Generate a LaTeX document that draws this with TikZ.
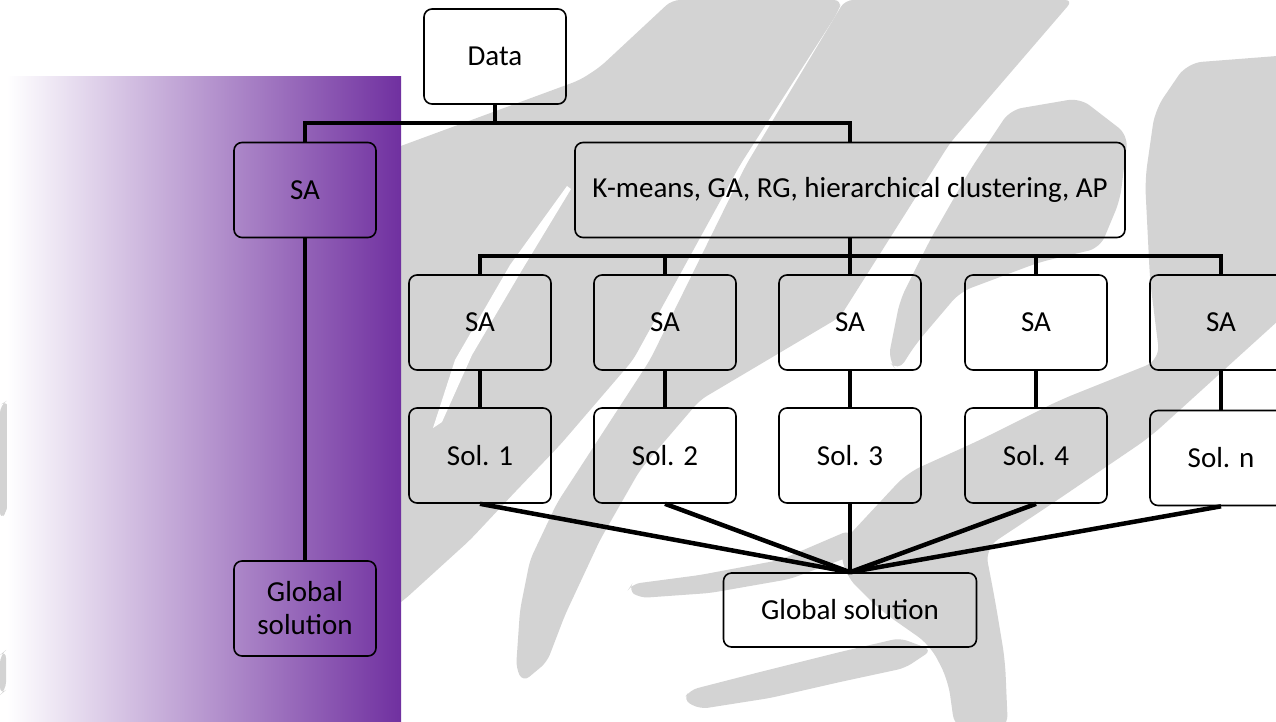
\documentclass[tikz,border=0pt]{standalone}
\usepackage{fontspec}
\setmainfont{Carlito}
\definecolor{bgg}{RGB}{211,211,211}
\definecolor{pur}{RGB}{112,48,160}
\definecolor{lav}{RGB}{206,194,225}
\begin{document}
\begin{tikzpicture}[x=1pt,y=-1pt,
  box/.style={draw=black, line width=1.6pt, rounded corners=8pt, minimum width=142pt,
    minimum height=95pt, inner sep=0pt, align=center, font=\fontsize{29}{33}\selectfont},
  conn/.style={line width=4.5pt, line join=miter},
  brush/.style={fill=bgg, rounded corners=8pt}]
\useasboundingbox (0,0) rectangle (1276,721);
\fill[white] (0,0) rectangle (1276,721);
% background brush strokes
\fill[brush] (600,67) -- (672,0) -- (842,0) -- (838,12) -- (740,165) -- (633,360) -- (560,445)
  -- (515,492) -- (470,540) -- (404,600) -- (390,610) -- (390,150) -- (580,80) -- cycle;
\fill[white] (567,186) -- (571,189) -- (522,270) -- (472,355) -- (442,422) -- (433,428)
  -- (455,360) -- (510,265) -- cycle;
\fill[brush] (845,0) -- (1073,0) -- (950,143) -- (840,317) -- (700,400) -- (640,470) -- (600,540)
  -- (565,615) -- (547,662) -- (523,682) -- (516,668) -- (520,610) -- (530,560) -- (557,503)
  -- (650,360) -- (746,165) -- cycle;
\fill[brush, rounded corners=12pt] (1010,110) -- (1080,98) -- (1128,135) -- (1120,200) -- (1100,248)
  -- (1040,262) -- (960,292) -- (915,345) -- (898,372) -- (888,360) -- (900,300) -- (930,240)
  -- (970,170) -- cycle;
\fill[brush, rounded corners=15pt] (1187,63) -- (1290,55) -- (1290,310) -- (1150,437) -- (1050,505)
  -- (985,548) -- (995,600) -- (1005,660) -- (1008,730) -- (955,730) -- (948,680) -- (930,645)
  -- (880,610) -- (845,575) -- (840,545) -- (907,473) -- (980,440) -- (1060,400) -- (1160,360)
  -- (1150,280) -- (1145,180) -- (1155,110) -- cycle;
\fill[brush] (628,590) -- (632,584) -- (700,575) -- (780,560) -- (850,530) -- (862,552)
  -- (790,579) -- (710,593) -- (640,598) -- cycle;
\fill[brush] (683,700) -- (690,690) -- (760,672) -- (840,652) -- (900,638) -- (932,650)
  -- (905,668) -- (840,682) -- (770,698) -- (700,709) -- cycle;
\fill[brush] (0,405) -- (8,400) -- (8,510) -- (0,520) -- cycle;
\fill[brush] (0,655) -- (6,650) -- (6,690) -- (0,695) -- cycle;
% purple panel
\shade[left color=white, middle color=lav, right color=pur] (7,76) rectangle (401,721);
% nodes
\node[box] (data) at (495,56.5) {Data};
\node[box] (saL) at (305,190) {SA};
\node[box, minimum width=550pt] (km) at (850,190) {K-means, GA, RG, hierarchical clustering, AP};
\node[box] (sa1) at (480,322.5) {SA};
\node[box] (sa2) at (665,322.5) {SA};
\node[box] (sa3) at (850,322.5) {SA};
\node[box] (sa4) at (1036,322.5) {SA};
\node[box] (sa5) at (1221,322.5) {SA};
\node[box] (s1) at (480,455.5) {Sol. 1};
\node[box] (s2) at (665,455.5) {Sol. 2};
\node[box] (s3) at (850,455.5) {Sol. 3};
\node[box] (s4) at (1036,455.5) {Sol. 4};
\node[box] (sn) at (1221,458) {Sol. n};
\node[box] (gL) at (305,608.5) {Global\\solution};
\node[box, minimum width=253pt, minimum height=74pt] (g) at (850,610) {Global solution};
% connectors
\coordinate (b1) at (0,123);
\coordinate (b2) at (0,256);
\draw[conn] (data.south) -- (data.south |- b1);
\draw[conn] (saL.north) -- (saL.north |- b1) -- (km.north |- b1) -- (km.north);
\draw[conn] (km.south) -- (km.south |- b2);
\draw[conn] (sa1.north) -- (sa1.north |- b2) -- (sa5.north |- b2) -- (sa5.north);
\foreach \i in {2,3,4} {\draw[conn] (sa\i.north) -- (sa\i.north |- b2);}
\foreach \i in {1,2,3,4} {\draw[conn] (sa\i.south) -- (s\i.north);}
\draw[conn] (sa5.south) -- (sn.north);
\draw[conn] (saL.south) -- (gL.north);
\foreach \i in {s1,s2,s3,s4,sn} {\draw[conn] (\i.south) -- (g.north);}
\end{tikzpicture}
\end{document}
